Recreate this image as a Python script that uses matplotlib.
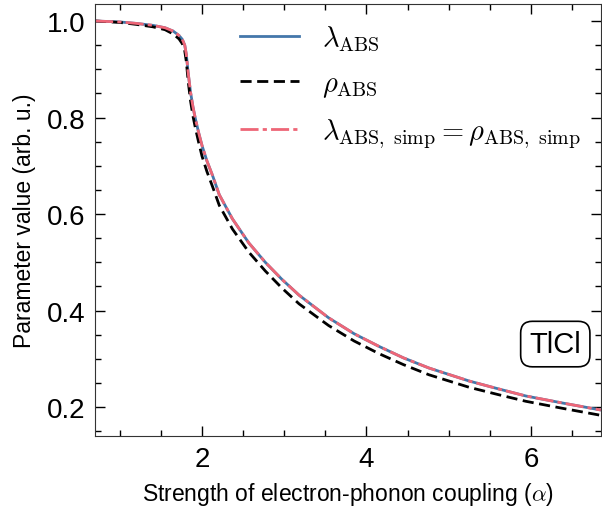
import matplotlib
matplotlib.use('Agg')
import matplotlib.pyplot as plt
from matplotlib.ticker import MultipleLocator

plt.rcParams['font.family'] = ['Liberation Sans', 'DejaVu Sans']
plt.rcParams['mathtext.fontset'] = 'cm'

# coupling strength alpha
alpha = [0.70, 1.00, 1.20, 1.40, 1.55, 1.65, 1.72, 1.76, 1.79, 1.81, 1.83, 1.86,
         1.89, 1.92, 1.96, 2.00, 2.06, 2.13, 2.21, 2.37, 2.57, 2.77, 2.97, 3.18,
         3.54, 3.85, 4.15, 4.45, 4.76, 5.25, 5.60, 5.94, 6.40, 6.85]

lambda_abs = [1.000, 0.998, 0.995, 0.991, 0.986, 0.979, 0.970, 0.962, 0.950, 0.930,
              0.895, 0.853, 0.822, 0.797, 0.768, 0.742, 0.710, 0.679, 0.640, 0.590,
              0.540, 0.500, 0.465, 0.432, 0.385, 0.352, 0.326, 0.302, 0.281, 0.254,
              0.238, 0.223, 0.208, 0.194]

rho_abs = [1.000, 0.997, 0.993, 0.988, 0.982, 0.973, 0.963, 0.953, 0.938, 0.915,
           0.878, 0.835, 0.803, 0.778, 0.748, 0.720, 0.688, 0.656, 0.618, 0.569,
           0.521, 0.482, 0.447, 0.414, 0.369, 0.337, 0.311, 0.288, 0.267, 0.241,
           0.226, 0.212, 0.197, 0.183]

# simplified model coincides with lambda_abs
lambda_simp = list(lambda_abs)

fig = plt.figure(figsize=(6.02, 5.10), dpi=100)
ax = fig.add_axes([0.158, 0.143, 0.840, 0.847])

ax.plot(alpha, lambda_abs, color='#4477AA', lw=2.0, label=r'$\lambda_{\mathrm{ABS}}$')
ax.plot(alpha, rho_abs, color='black', lw=2.0, ls=(0, (4, 2)), label=r'$\rho_{\mathrm{ABS}}$')
ax.plot(alpha, lambda_simp, color='#EE6677', lw=2.0, ls=(0, (6.5, 1.5, 1.5, 1.5)),
        label=r'$\lambda_{\mathrm{ABS,\ simp}} = \rho_{\mathrm{ABS,\ simp}}$')

ax.set_xlim(0.7, 6.85)
ax.set_ylim(0.14, 1.035)
ax.xaxis.set_major_locator(MultipleLocator(2))
ax.xaxis.set_minor_locator(MultipleLocator(0.5))
ax.yaxis.set_major_locator(MultipleLocator(0.2))
ax.yaxis.set_minor_locator(MultipleLocator(0.05))
ax.tick_params(which='both', direction='in', top=True, right=True, labelsize=20)
ax.tick_params(which='major', length=7, width=1, pad=7)
ax.tick_params(which='minor', length=4, width=1)
for s in ax.spines.values():
    s.set_color('#333333')

ax.set_xlabel(r'Strength of electron-phonon coupling ($\alpha$)', fontsize=16.5, labelpad=6)
ax.set_ylabel('Parameter value (arb. u.)', fontsize=16.5, labelpad=8)

ax.legend(loc='upper right', frameon=False, fontsize=20.5, handlelength=2.1,
          handletextpad=0.8, labelspacing=0.62, borderaxespad=0.3)

ax.text(0.91, 0.213, 'TlCl', transform=ax.transAxes, fontsize=21,
        ha='center', va='center',
        bbox=dict(boxstyle='round,pad=0.3,rounding_size=0.4', fc='white', ec='black', lw=1.2))

fig.savefig('out.png', dpi=100)
